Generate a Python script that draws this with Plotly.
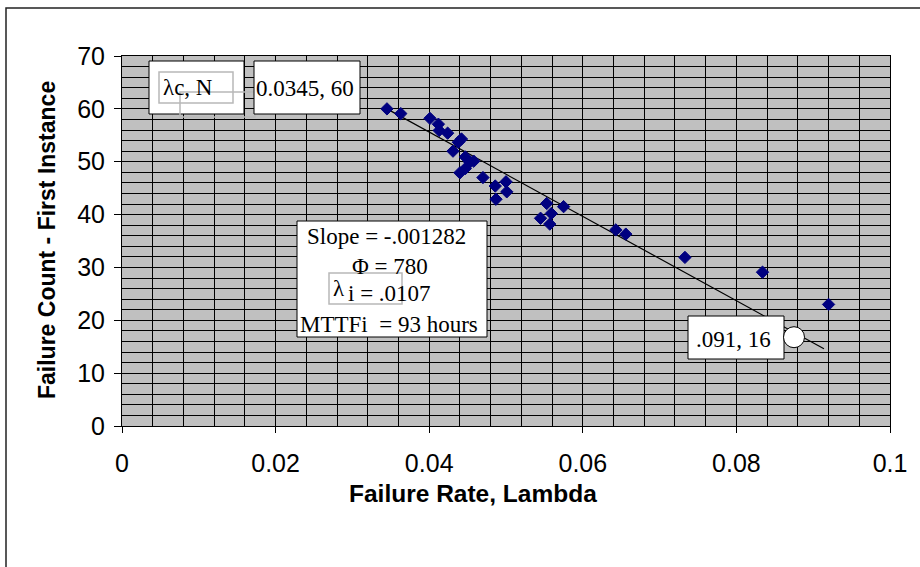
import plotly.graph_objects as go

# ---- data ----
failure_rate = [0.0345, 0.0363, 0.0401, 0.0412, 0.0413, 0.0424, 0.0442, 0.0438, 0.0431, 0.0447,
                0.0453, 0.0458, 0.0447, 0.0440, 0.0470, 0.0486, 0.0500, 0.0501, 0.0487, 0.0553,
                0.0575, 0.0559, 0.0545, 0.0557, 0.0643, 0.0656, 0.0733, 0.0834, 0.0920]
failure_count = [60.0, 59.1, 58.2, 57.1, 55.9, 55.4, 54.3, 53.7, 52.0, 50.9,
                 49.9, 50.1, 48.7, 47.9, 47.0, 45.4, 46.2, 44.3, 42.9, 42.1,
                 41.5, 40.2, 39.3, 38.2, 37.1, 36.3, 31.9, 29.1, 23.0]
trend_x = [0.0345, 0.0914]
trend_y = [60.0, 14.6]
marker_point = (0.0875, 16.8)
x_tickvals = [0, 0.02, 0.04, 0.06, 0.08, 0.1]
x_ticktext = ["0", "0.02", "0.04", "0.06", "0.08", "0.1"]
y_tickvals = [0, 10, 20, 30, 40, 50, 60, 70]
y_ticktext = ["0", "10", "20", "30", "40", "50", "60", "70"]

W, H = 920, 567
L, R, T, B = 122, 30, 56, 141
PW, PH = W - L - R, H - T - B


def px(xpix):
    return (xpix - L) / PW


def py(ypix):
    return (H - B - ypix) / PH


fig = go.Figure()
fig.add_trace(go.Scatter(x=trend_x, y=trend_y, mode="lines",
                         line=dict(color="black", width=1.2), showlegend=False, hoverinfo="skip"))
fig.add_trace(go.Scatter(x=failure_rate, y=failure_count, mode="markers",
                         marker=dict(symbol="diamond", size=9.5, color="#000080",
                                     line=dict(color="#000080", width=1)),
                         showlegend=False))

shapes = []


def box(x0, y0, x1, y1, color="black", width=1):
    shapes.append(dict(type="rect", xref="paper", yref="paper", layer="above",
                       x0=px(x0), x1=px(x1), y0=py(y1), y1=py(y0),
                       line=dict(color=color, width=width),
                       fillcolor="white" if color == "black" else "rgba(0,0,0,0)"))


# outer chart border
shapes.append(dict(type="rect", xref="paper", yref="paper", layer="above",
                   x0=px(6), x1=px(940), y0=py(590), y1=py(8),
                   line=dict(color="#222", width=1.5)))
box(149, 61, 244, 114)
box(159, 72, 233, 103, color="#b8b8b8", width=1.5)
box(180, 92, 255, 117, color="#b8b8b8", width=1.5)
box(254, 61, 360, 114)
box(297, 221, 487, 337)
box(329, 273, 402, 304, color="#b8b8b8", width=1.5)
box(688, 316, 784, 359)
shapes.append(dict(type="circle", xref="x", yref="y", layer="above",
                   xsizemode="pixel", ysizemode="pixel",
                   xanchor=marker_point[0], yanchor=marker_point[1],
                   x0=-10.5, x1=10.5, y0=-10.5, y1=10.5,
                   fillcolor="white", line=dict(color="black", width=1)))

serif = dict(family="Liberation Serif", size=23, color="black")
ann = []


def text(t, x, y, xanchor="left"):
    ann.append(dict(text=t, xref="paper", yref="paper", x=px(x), y=py(y),
                    xanchor=xanchor, yanchor="middle", showarrow=False, font=serif))


text("λc, N", 161, 87)
text("0.0345, 60", 254, 88)
text("Slope = -.001282", 386, 236, "center")
text("Φ = 780", 390, 266, "center")
text("λ", 331, 288)
text("i = .0107", 346, 293)
text("MTTFi&nbsp;&nbsp;= 93 hours", 389, 324, "center")
text(".091, 16", 694, 339)

ann.append(dict(text="Failure Count - First Instance", xref="paper", yref="paper",
                x=px(47), y=py(240), textangle=-90, showarrow=False,
                xanchor="center", yanchor="middle",
                font=dict(family="Liberation Sans", size=23, color="black", weight="bold")))
ann.append(dict(text="Failure Rate, Lambda", xref="paper", yref="paper",
                x=px(473), y=py(493), showarrow=False,
                xanchor="center", yanchor="middle",
                font=dict(family="Liberation Sans", size=24.5, color="black", weight="bold")))

tick_font = dict(family="Liberation Sans", size=25, color="black")
fig.update_layout(
    width=W, height=H, margin=dict(l=L, r=R, t=T, b=B),
    paper_bgcolor="white", plot_bgcolor="#c0c0c0",
    shapes=shapes, annotations=ann, showlegend=False,
    xaxis=dict(range=[0, 0.1], tickvals=x_tickvals, ticktext=x_ticktext,
               showgrid=True, gridcolor="black", gridwidth=1, zeroline=False,
               minor=dict(dtick=0.004, tick0=0, showgrid=True, gridcolor="black", gridwidth=1),
               ticks="outside", ticklen=6, tickcolor="black", tickwidth=1,
               ticklabelstandoff=9,
               showline=True, linecolor="black", linewidth=1, mirror=True,
               tickfont=tick_font),
    yaxis=dict(range=[0, 70], tickvals=y_tickvals, ticktext=y_ticktext,
               showgrid=True, gridcolor="black", gridwidth=1, zeroline=False,
               minor=dict(dtick=2, tick0=0, showgrid=True, gridcolor="black", gridwidth=1),
               ticks="outside", ticklen=7, tickcolor="black", tickwidth=1,
               ticklabelstandoff=4,
               showline=True, linecolor="black", linewidth=1, mirror=True,
               tickfont=tick_font),
)

fig.write_html("out.html")
